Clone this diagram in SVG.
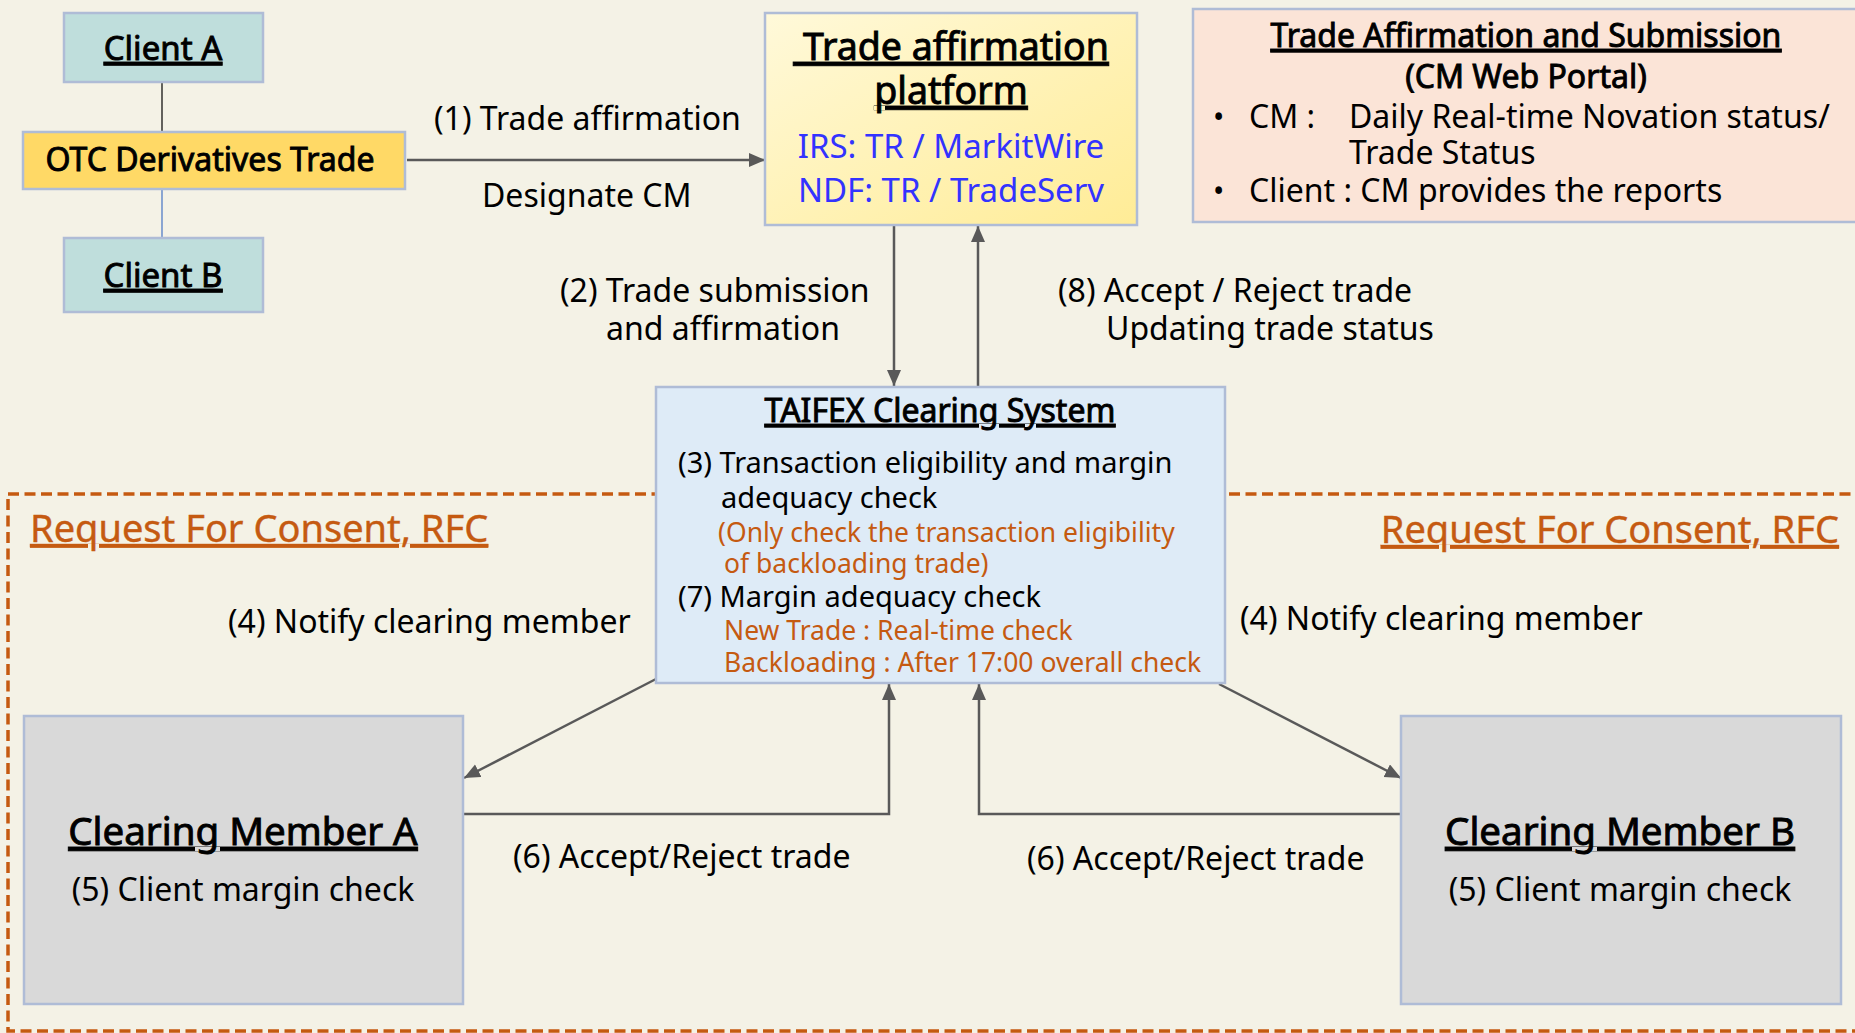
<svg xmlns="http://www.w3.org/2000/svg" width="1855" height="1033" viewBox="0 0 1855 1033">
  <defs>
    <linearGradient id="platformFill" x1="0" y1="0" x2="1" y2="1">
      <stop offset="0" stop-color="#FFF9DA"/>
      <stop offset="1" stop-color="#FFEC96"/>
    </linearGradient>
    <marker id="arrow" markerUnits="userSpaceOnUse" markerWidth="18" markerHeight="16" refX="16" refY="7" orient="auto">
      <path d="M0,0 L16,7 L0,14 Z" fill="#595959"/>
    </marker>
    <style>
      text { font-family: "Noto Sans", "Open Sans", "Liberation Sans", sans-serif; fill: #000; }
      .lbl { font-size: 32px; }
      /* medium-weight headings: regular face thickened with a hairline stroke */
      .heavy { stroke: #000; stroke-width: 0.9px; }
      .ul { text-decoration: underline; }
      .box { stroke: #AFBCD6; stroke-width: 2.5; }
      .conn { fill: none; stroke: #595959; stroke-width: 2.5; marker-end: url(#arrow); }
      .orange { fill: #C55A11; }
      .rfc { fill: #C55A11; stroke: #C55A11; stroke-width: 0.4px; font-size: 38px; text-decoration: underline; }
      .blue { fill: #3333FF; }
      .mid { text-anchor: middle; }
    </style>
  </defs>

  <!-- page background -->
  <rect x="0" y="0" width="1855" height="1033" fill="#F4F2E6"/>

  <!-- request-for-consent zone -->
  <rect id="rfc-zone" x="8" y="494" width="1880" height="537" fill="none" stroke="#C55A11" stroke-width="3.5" stroke-dasharray="11 5.5"/>

  <!-- connectors -->
  <g id="connectors">
    <line x1="162" y1="83" x2="162" y2="132" stroke="#000" stroke-width="1.2"/>
    <line x1="162" y1="189" x2="162" y2="238" stroke="#4472C4" stroke-width="1.2"/>
    <line class="conn" x1="407" y1="160" x2="765" y2="160"/>
    <line class="conn" x1="894" y1="226" x2="894" y2="386"/>
    <line class="conn" x1="978" y1="387" x2="978" y2="226"/>
    <line class="conn" x1="656" y1="679" x2="464" y2="778"/>
    <line class="conn" x1="1219" y1="684" x2="1401" y2="778"/>
    <polyline class="conn" points="463,814 889,814 889,684"/>
    <polyline class="conn" points="1401,814 979,814 979,684"/>

    <text class="lbl" x="434" y="130">(1) Trade affirmation</text>
    <text class="lbl" x="482" y="207">Designate CM</text>
    <text class="lbl" x="560" y="302">(2) Trade submission</text>
    <text class="lbl" x="606" y="340">and affirmation</text>
    <text class="lbl" x="1058" y="302">(8) Accept / Reject trade</text>
    <text class="lbl" x="1106" y="340">Updating trade status</text>
    <text class="lbl" x="228" y="633">(4) Notify clearing member</text>
    <text class="lbl" x="1240" y="630">(4) Notify clearing member</text>
    <text class="lbl" x="513" y="868">(6) Accept/Reject trade</text>
    <text class="lbl" x="1027" y="870">(6) Accept/Reject trade</text>
  </g>

  <!-- zone captions -->
  <text class="rfc" x="30" y="542">Request For Consent, RFC</text>
  <text class="rfc" x="1839" y="543" text-anchor="end">Request For Consent, RFC</text>

  <g id="client-a">
    <rect class="box" x="64" y="13" width="199" height="69" fill="#BFDEDC"/>
    <text class="heavy ul mid" x="163" y="60" font-size="33">Client A</text>
  </g>

  <g id="otc-trade">
    <rect class="box" x="23" y="132" width="382" height="57" fill="#FFD966"/>
    <text class="heavy mid" x="210" y="171" font-size="32">OTC Derivatives Trade</text>
  </g>

  <g id="client-b">
    <rect class="box" x="64" y="238" width="199" height="74" fill="#BFDEDC"/>
    <text class="heavy ul mid" x="163" y="287" font-size="33">Client B</text>
  </g>

  <g id="affirmation-platform">
    <rect class="box" x="765" y="13" width="372" height="212" fill="url(#platformFill)"/>
    <text class="heavy ul mid" x="951" y="60" font-size="37.5">&#160;Trade affirmation</text>
    <text class="heavy ul mid" x="951" y="104" font-size="37.5">platform</text>
    <text class="blue mid" x="951" y="158" font-size="33">IRS: TR / MarkitWire</text>
    <text class="blue mid" x="951" y="202" font-size="33">NDF: TR / TradeServ</text>
  </g>

  <g id="web-portal">
    <rect class="box" x="1193" y="9" width="700" height="213" fill="#FBE4D7"/>
    <text class="heavy ul mid" x="1526" y="47" font-size="32">Trade Affirmation and Submission</text>
    <text class="heavy mid" x="1526" y="88" font-size="32">(CM Web Portal)</text>
    <text x="1213" y="128" font-size="30">•</text>
    <text x="1249" y="128" font-size="32">CM :</text>
    <text x="1349" y="128" font-size="32">Daily Real-time Novation status/</text>
    <text x="1349" y="164" font-size="32">Trade Status</text>
    <text x="1213" y="202" font-size="30">•</text>
    <text x="1249" y="202" font-size="32">Client : CM provides the reports</text>
  </g>

  <g id="taifex-clearing">
    <rect class="box" x="656" y="387" width="569" height="296" fill="#DEEBF7"/>
    <text class="heavy ul mid" x="940" y="422" font-size="32">TAIFEX Clearing System</text>
    <text x="678" y="473" font-size="29">(3) Transaction eligibility and margin</text>
    <text x="721" y="508" font-size="29">adequacy check</text>
    <text class="orange" x="718" y="542" font-size="26.5">(Only check the transaction eligibility</text>
    <text class="orange" x="724" y="573" font-size="26.5">of backloading trade)</text>
    <text x="678" y="607" font-size="29">(7) Margin adequacy check</text>
    <text class="orange" x="724" y="640" font-size="26.5">New Trade : Real-time check</text>
    <text class="orange" x="724" y="672" font-size="26.5">Backloading : After 17:00 overall check</text>
  </g>

  <g id="clearing-member-a">
    <rect class="box" x="24" y="716" width="439" height="288" fill="#D9D9D9"/>
    <text class="heavy ul mid" x="243" y="845" font-size="38.5">Clearing Member A</text>
    <text class="lbl mid" x="243" y="901">(5) Client margin check</text>
  </g>

  <g id="clearing-member-b">
    <rect class="box" x="1401" y="716" width="440" height="288" fill="#D9D9D9"/>
    <text class="heavy ul mid" x="1620" y="845" font-size="38.5">Clearing Member B</text>
    <text class="lbl mid" x="1620" y="901">(5) Client margin check</text>
  </g>
</svg>
